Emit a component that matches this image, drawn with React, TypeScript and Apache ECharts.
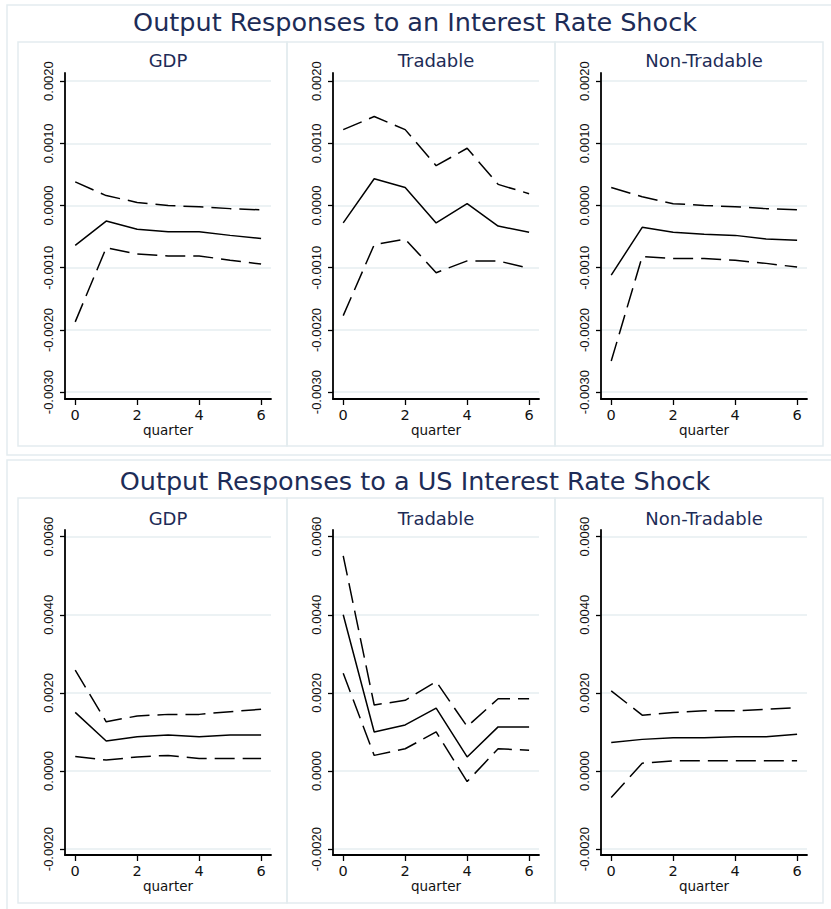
import { useEffect, useRef } from "react";
import * as echarts from "echarts";

// quarters after shock
const quarters = [0, 1, 2, 3, 4, 5, 6];

// Row 1: domestic interest rate shock
const gdpIrf = [-0.00064, -0.00025, -0.00038, -0.00042, -0.00042, -0.00048, -0.00053];
const gdpUpper = [0.00038, 0.00016, 0.00005, 0.0, -0.00002, -0.00005, -0.00007];
const gdpLower = [-0.00187, -0.00068, -0.00078, -0.00081, -0.00081, -0.00088, -0.00094];
const tradIrf = [-0.00028, 0.00043, 0.00029, -0.00028, 0.00003, -0.00033, -0.00043];
const tradUpper = [0.00122, 0.00143, 0.00122, 0.00064, 0.00092, 0.00034, 0.00019];
const tradLower = [-0.00177, -0.00063, -0.00054, -0.00108, -0.00089, -0.00089, -0.00101];
const nonTradIrf = [-0.00112, -0.00035, -0.00043, -0.00046, -0.00048, -0.00054, -0.00056];
const nonTradUpper = [0.00029, 0.00014, 0.00003, 0.0, -0.00002, -0.00005, -0.00007];
const nonTradLower = [-0.0025, -0.00082, -0.00085, -0.00085, -0.00088, -0.00093, -0.00099];

// Row 2: US interest rate shock
const usGdpIrf = [0.0015, 0.00077, 0.00088, 0.00092, 0.00088, 0.00092, 0.00092];
const usGdpUpper = [0.00258, 0.00126, 0.00141, 0.00145, 0.00145, 0.00152, 0.00158];
const usGdpLower = [0.00037, 0.00028, 0.00036, 0.0004, 0.00032, 0.00032, 0.00032];
const usTradIrf = [0.004, 0.001, 0.00118, 0.00161, 0.00036, 0.00113, 0.00113];
const usTradUpper = [0.00551, 0.00169, 0.00181, 0.00229, 0.00114, 0.00185, 0.00185];
const usTradLower = [0.0025, 0.0004, 0.00057, 0.001, -0.00027, 0.00057, 0.00053];
const usNonTradIrf = [0.00073, 0.00081, 0.00085, 0.00085, 0.00088, 0.00088, 0.00094];
const usNonTradUpper = [0.00205, 0.00143, 0.0015, 0.00154, 0.00154, 0.00158, 0.00162];
const usNonTradLower = [-0.00068, 0.0002, 0.00026, 0.00026, 0.00026, 0.00026, 0.00026];

const rowTitles = [
  "Output Responses to an Interest Rate Shock",
  "Output Responses to a US Interest Rate Shock",
];
const panelTitles = ["GDP", "Tradable", "Non-Tradable"];
const topTicks = [-0.003, -0.002, -0.001, 0, 0.001, 0.002];
const bottomTicks = [-0.002, 0, 0.002, 0.004, 0.006];
const xTicks = [0, 2, 4, 6];
const xLabel = "quarter";

const panels = [
  [gdpIrf, gdpUpper, gdpLower],
  [tradIrf, tradUpper, tradLower],
  [nonTradIrf, nonTradUpper, nonTradLower],
  [usGdpIrf, usGdpUpper, usGdpLower],
  [usTradIrf, usTradUpper, usTradLower],
  [usNonTradIrf, usNonTradUpper, usNonTradLower],
];

export default function App() {
  const ref = useRef<HTMLDivElement>(null);
  useEffect(() => {
    const chart = echarts.init(ref.current!, null, { renderer: "svg" });
    const colLeft = [65, 333, 601];
    const colWidth = 206;
    const rowTop = [73, 530];
    const rowHeight = [326, 325];
    const yMin = [-0.00311, -0.00215];
    const yMax = [0.00213, 0.00617];
    const yTicks = [topTicks, bottomTicks];
    const panelX = [18, 287, 555];
    const panelW = [269, 268, 268];
    const panelY = [42, 498];
    const panelH = [404, 405];
    const outerY = [5, 460];
    const outerH = [450, 460];
    const mainTitleY = [22, 481];
    const subTitleY = [60, 518];
    const border = "#e3ecef";
    const navy = "#1d2c57";

    const grid: any[] = [];
    const xAxis: any[] = [];
    const yAxis: any[] = [];
    const series: any[] = [];
    const graphic: any[] = [];

    for (let r = 0; r < 2; r++) {
      graphic.push({
        type: "rect",
        shape: { x: 7, y: outerY[r], width: 830, height: outerH[r] },
        style: { fill: "none", stroke: border, lineWidth: 1.5 },
        z: -10,
      });
      graphic.push({
        type: "text",
        x: 415,
        y: mainTitleY[r],
        style: {
          text: rowTitles[r],
          fontFamily: "DejaVu Sans",
          fontSize: 25.5,
          fill: navy,
          align: "center",
          verticalAlign: "middle",
        },
      });
      for (let c = 0; c < 3; c++) {
        const idx = r * 3 + c;
        graphic.push({
          type: "rect",
          shape: { x: panelX[c], y: panelY[r], width: panelW[c], height: panelH[r] },
          style: { fill: "none", stroke: border, lineWidth: 1.5 },
          z: -10,
        });
        graphic.push({
          type: "text",
          x: colLeft[c] + colWidth / 2,
          y: subTitleY[r],
          style: {
            text: panelTitles[c],
            fontFamily: "DejaVu Sans",
            fontSize: 18,
            fill: navy,
            align: "center",
            verticalAlign: "middle",
          },
        });
        grid.push({
          left: colLeft[c],
          top: rowTop[r],
          width: colWidth,
          height: rowHeight[r],
          containLabel: false,
        });
        xAxis.push({
          type: "value",
          gridIndex: idx,
          min: -0.33,
          max: 6.32,
          name: xLabel,
          nameLocation: "middle",
          nameGap: 21,
          nameTextStyle: { fontFamily: "DejaVu Sans", fontSize: 13.5, color: "#111" },
          axisLine: { onZero: false, lineStyle: { color: "#000", width: 1.8 } },
          axisTick: { show: true, length: 6, customValues: xTicks, lineStyle: { color: "#000", width: 1.3 } },
          axisLabel: {
            customValues: xTicks,
            fontFamily: "DejaVu Sans",
            fontSize: 14.5,
            color: "#111",
            margin: 8,
          },
          splitLine: { show: false },
        });
        yAxis.push({
          type: "value",
          gridIndex: idx,
          min: yMin[r],
          max: yMax[r],
          axisLine: { show: true, onZero: false, lineStyle: { color: "#000", width: 1.8 } },
          axisTick: { show: true, length: 5, customValues: yTicks[r], lineStyle: { color: "#000", width: 1.3 } },
          axisLabel: {
            customValues: yTicks[r],
            rotate: 90,
            fontFamily: "Liberation Sans",
            fontSize: 13,
            color: "#111",
            margin: 10,
            formatter: (v: number) => v.toFixed(4),
          },
          splitLine: { show: true, lineStyle: { color: "#e6eef1", width: 1.5 } },
        });
        const [irf, upper, lower] = panels[idx];
        const mk = (arr: number[], dashed: boolean) => ({
          type: "line",
          xAxisIndex: idx,
          yAxisIndex: idx,
          data: quarters.map((q, k) => [q, arr[k]]),
          symbol: "none",
          silent: true,
          lineStyle: { color: "#000", width: 1.5, type: dashed ? [20, 8] : "solid" },
        });
        series.push(mk(upper, true), mk(irf, false), mk(lower, true));
      }
    }

    chart.setOption({
      animation: false,
      backgroundColor: "#fff",
      grid,
      xAxis,
      yAxis,
      series,
      graphic,
    });
    return () => chart.dispose();
  }, []);
  return (
    <div
      ref={ref}
      style={{ position: "fixed", left: 0, top: 0, width: 831, height: 909, background: "#fff" }}
    />
  );
}
